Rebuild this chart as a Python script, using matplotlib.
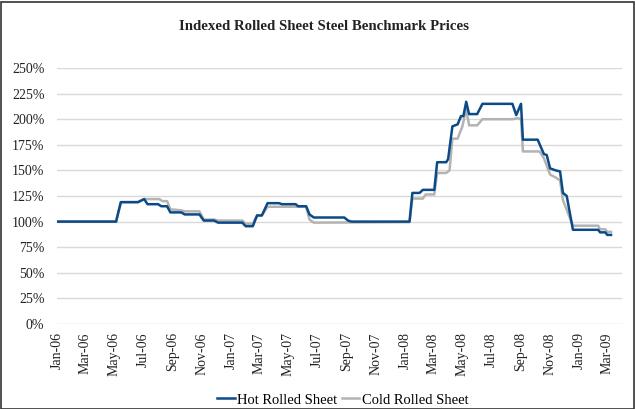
import matplotlib
matplotlib.use("Agg")
import matplotlib.pyplot as plt
import matplotlib.dates as mdates
from matplotlib.ticker import FixedLocator, FuncFormatter
from matplotlib.patches import Rectangle
import pandas as pd

plt.rcParams['font.family'] = ['Liberation Serif', 'DejaVu Serif']

title = "Indexed Rolled Sheet Steel Benchmark Prices"
series_names = ["Hot Rolled Sheet", "Cold Rolled Sheet"]

hot_dates = ["2006-01-02", "2006-05-05", "2006-05-15", "2006-06-20", "2006-07-03", "2006-07-10",
             "2006-08-01", "2006-08-08", "2006-08-20", "2006-08-27", "2006-09-19", "2006-09-26",
             "2006-10-27", "2006-11-05", "2006-11-27", "2006-12-05", "2007-01-25", "2007-02-01",
             "2007-02-16", "2007-02-25", "2007-03-07", "2007-03-19", "2007-04-12", "2007-04-18",
             "2007-05-17", "2007-05-22", "2007-06-08", "2007-06-15", "2007-06-24", "2007-08-27",
             "2007-09-04", "2007-09-11", "2008-01-11", "2008-01-17", "2008-02-01", "2008-02-08",
             "2008-03-03", "2008-03-09", "2008-03-28", "2008-04-01", "2008-04-10", "2008-04-21",
             "2008-04-28", "2008-05-03", "2008-05-09", "2008-05-15", "2008-06-01", "2008-06-12",
             "2008-08-14", "2008-08-22", "2008-09-01", "2008-09-05", "2008-10-06", "2008-10-19",
             "2008-10-25", "2008-11-01", "2008-11-13", "2008-11-22", "2008-11-28", "2008-12-06",
             "2008-12-19", "2009-02-10", "2009-02-14", "2009-02-25", "2009-03-01", "2009-03-09"]
hot_values = [100, 100, 119, 119, 122, 117,
              117, 115, 115, 109, 109, 107,
              107, 101, 101, 99, 99, 95.5,
              95.5, 106, 106, 118, 118, 117,
              117, 115, 115, 107, 104, 104,
              101, 100, 100, 128, 128, 131,
              131, 158, 158, 161, 193, 195,
              203, 203, 217, 205, 205, 215,
              215, 204, 215, 180, 180, 166,
              165, 152, 150, 149, 128, 125,
              92, 92, 89.5, 89.5, 87, 87]

cold_dates = ["2006-01-02", "2006-05-05", "2006-05-15", "2006-06-20", "2006-07-03", "2006-08-04",
              "2006-08-10", "2006-08-20", "2006-08-27", "2006-09-19", "2006-09-26", "2006-10-27",
              "2006-11-05", "2006-11-27", "2006-12-05", "2007-01-25", "2007-02-01", "2007-02-16",
              "2007-02-25", "2007-03-07", "2007-03-19", "2007-06-08", "2007-06-15", "2007-06-24",
              "2008-01-11", "2008-01-17", "2008-02-08", "2008-02-14", "2008-03-03", "2008-03-09",
              "2008-03-28", "2008-04-04", "2008-04-10", "2008-04-21", "2008-04-25", "2008-05-01",
              "2008-05-09", "2008-05-15", "2008-06-01", "2008-06-12", "2008-08-14", "2008-08-25",
              "2008-09-01", "2008-09-05", "2008-10-10", "2008-10-19", "2008-11-01", "2008-11-13",
              "2008-11-22", "2008-11-28", "2008-12-19", "2009-02-10", "2009-02-14", "2009-02-25",
              "2009-03-01", "2009-03-09"]
cold_values = [100, 100, 119, 119, 122, 122,
               120, 120, 112, 111, 110, 110,
               102, 102, 101, 101, 98, 98,
               106, 106, 114.5, 114.5, 102, 99,
               99.5, 122.5, 122.5, 126.5, 126.5, 147.5,
               147.5, 150, 181, 181, 186, 193,
               210, 194, 194, 200, 200, 201,
               200, 168.5, 168.5, 162, 146, 143,
               140, 121, 96, 96, 92.5, 92.5,
               90, 90]

y_ticks = [0, 25, 50, 75, 100, 125, 150, 175, 200, 225, 250]

fig = plt.figure(figsize=(6.35, 4.09), dpi=100)
W, H = 635, 409
ax = fig.add_axes([57 / W, 1 - 324 / H, (622 - 57) / W, (324 - 68) / H])

hot_color = "#0a4a86"
cold_color = "#b3b3b3"
ax.plot(pd.to_datetime(hot_dates), hot_values, color=hot_color, lw=1.8, label=series_names[0], zorder=3)
ax.plot(pd.to_datetime(cold_dates), cold_values, color=cold_color, lw=1.8, label=series_names[1], zorder=2)

ax.set_ylim(0, 250)
ax.set_xlim(pd.Timestamp("2006-01-01"), pd.Timestamp("2009-04-01"))
ax.yaxis.set_major_locator(FixedLocator(y_ticks))
ax.yaxis.set_major_formatter(FuncFormatter(lambda v, p: f"{int(v)}%"))
ax.xaxis.set_major_locator(mdates.MonthLocator(bymonth=[1, 3, 5, 7, 9, 11]))
ax.xaxis.set_major_formatter(mdates.DateFormatter("%b-%y"))
ax.grid(axis='y', color="#d9d9d9", lw=1.0)
ax.set_axisbelow(True)
for s in ax.spines.values():
    s.set_visible(False)
ax.tick_params(axis='both', length=0, colors="#222222", labelsize=10)
ax.tick_params(axis='y', pad=9)
ax.tick_params(axis='x', pad=6)
for lab in ax.get_xticklabels():
    lab.set_rotation(90)
    lab.set_va('top')
    lab.set_ha('center')

fig.text(324 / W, 1 - 27 / H, title, ha='center', va='center', fontsize=10.7, fontweight='bold', color="#222222")

fig.legend(loc='center', bbox_to_anchor=(343 / W, 1 - 400 / H), ncol=2, frameon=False,
           fontsize=10.5, handlelength=1.2, handletextpad=0.2, columnspacing=0.3)

fig.patches.append(Rectangle((0.5 / W, 0.5 / H), (W - 1.5) / W, (H - 2) / H, transform=fig.transFigure,
                             fill=False, edgecolor="#333333", lw=1.2))

fig.savefig("out.png", dpi=100)
